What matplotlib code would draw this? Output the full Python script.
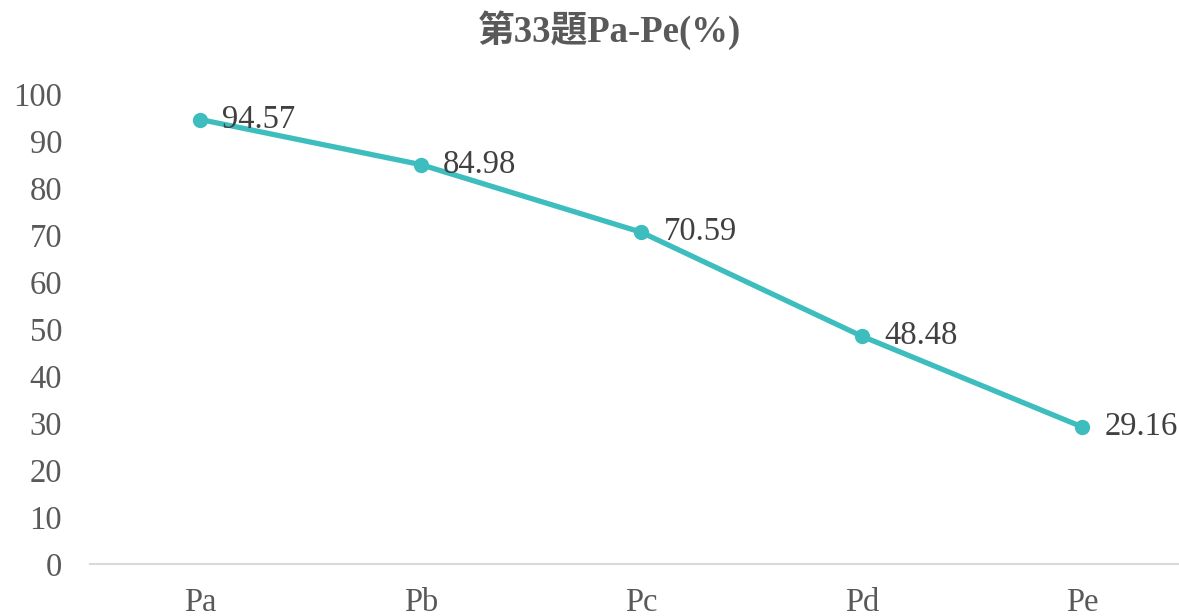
import matplotlib
matplotlib.use("Agg")
import matplotlib.pyplot as plt

categories = ["Pa", "Pb", "Pc", "Pd", "Pe"]
values = [94.57, 84.98, 70.59, 48.48, 29.16]
yticks = [0, 10, 20, 30, 40, 50, 60, 70, 80, 90, 100]
title = "第33題Pa-Pe(%)"

fig = plt.figure(figsize=(11.79, 6.16), dpi=100)
ax = fig.add_axes([90/1179, 1-564/616, 1102.5/1179, 470/616])
x = list(range(len(categories)))
ax.plot(x, values, color="#3dbdbd", lw=3.8, marker="o", ms=10, solid_capstyle="round", zorder=3)
for xi, v in zip(x, values):
    ax.annotate(f"{v:.2f}", (xi, v), xytext=(16, 0), textcoords="offset points",
                va="center", ha="left", fontsize=23.5, color="#404040",
                family="Liberation Serif")
ax.set_xlim(-0.5, 4.5)
ax.set_ylim(0, 100)
ax.set_yticks(yticks)
ax.set_yticklabels([str(t) for t in yticks], family="Liberation Serif", fontsize=23.5, color="#595959")
ax.set_xticks(x)
ax.set_xticklabels(categories, family="Liberation Serif", fontsize=23.5, color="#595959")
ax.tick_params(axis="both", length=0)
ax.tick_params(axis="y", pad=20)
ax.tick_params(axis="x", pad=17)
for s in ["top", "right", "left"]:
    ax.spines[s].set_visible(False)
ax.spines["bottom"].set_color("#d9d9d9")
ax.spines["bottom"].set_linewidth(1.5)
fig.text(609/1179, 1-30/616, title, ha="center", va="center", fontsize=26.5, fontweight="bold",
         color="#595959", family=["Liberation Serif", "Noto Sans CJK TC"])
fig.savefig("out.png", dpi=100, facecolor="white")
